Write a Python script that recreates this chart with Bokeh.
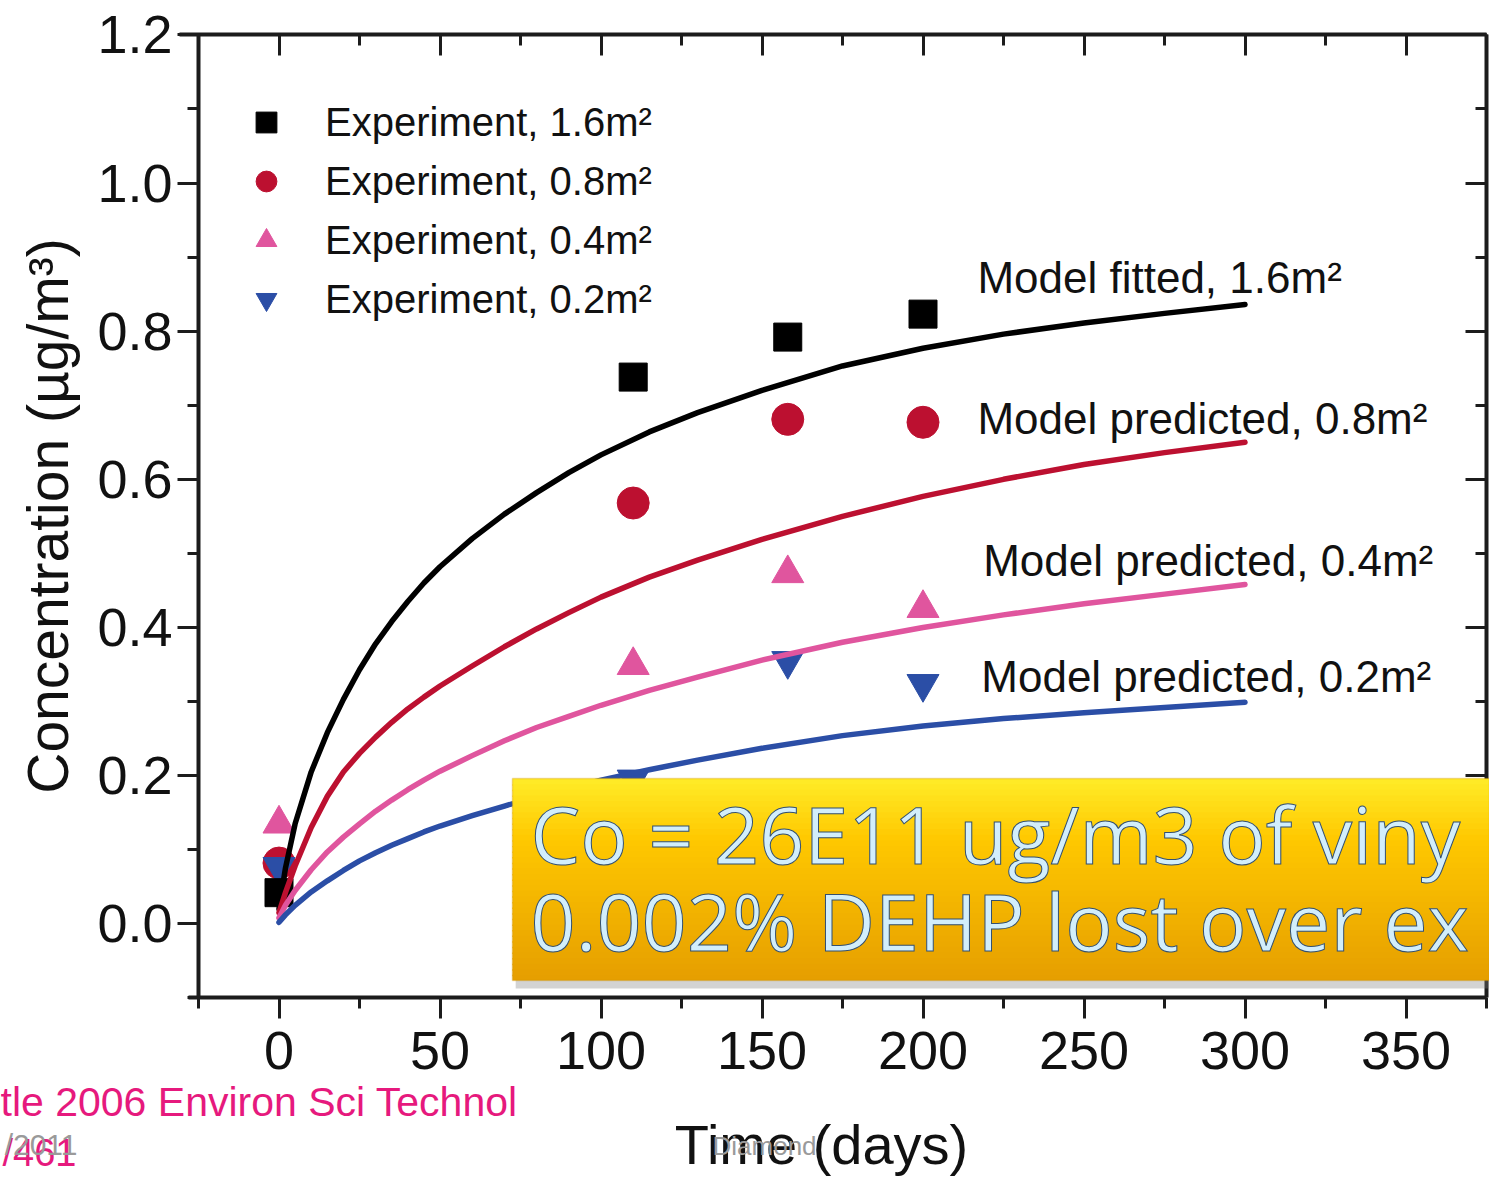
from bokeh.plotting import figure
from bokeh.models import (LinearAxis, SingleIntervalTicker, NumeralTickFormatter,
                          CustomJSTickFormatter, Range1d, Legend, LegendItem, Label,
                          BoxAnnotation)
from bokeh.core.properties import value
from bokeh.embed import file_html
from bokeh.resources import INLINE

# ---------------- data ----------------
exp_days = [0, 110, 158, 200]
exp_16 = [0.042, 0.738, 0.792, 0.823]
exp_08 = [0.082, 0.568, 0.681, 0.677]
exp_04 = [0.135, 0.349, 0.473, 0.426]
exp_02 = [0.077, 0.195, 0.355, 0.324]

model_days = [0, 2, 5, 10, 15, 20, 25, 30, 35, 40, 45, 50, 60, 70, 80, 90, 100,
              115, 130, 150, 175, 200, 225, 250, 275, 300]
model_16 = [0.02, 0.075, 0.135, 0.205, 0.258, 0.303, 0.343, 0.378, 0.408, 0.435, 0.46, 0.482,
            0.52, 0.553, 0.582, 0.609, 0.633, 0.664, 0.69, 0.72, 0.753, 0.777, 0.796, 0.811,
            0.824, 0.836]
model_08 = [0.015, 0.042, 0.078, 0.13, 0.172, 0.205, 0.23, 0.252, 0.272, 0.29, 0.306, 0.321,
            0.348, 0.374, 0.398, 0.42, 0.441, 0.468, 0.491, 0.519, 0.55, 0.577, 0.60, 0.62,
            0.636, 0.65]
model_04 = [0.008, 0.025, 0.045, 0.073, 0.097, 0.117, 0.135, 0.152, 0.167, 0.181, 0.194, 0.206,
            0.227, 0.247, 0.265, 0.28, 0.295, 0.315, 0.333, 0.356, 0.38, 0.40, 0.417, 0.432,
            0.445, 0.458]
model_02 = [0.002, 0.012, 0.025, 0.043, 0.058, 0.072, 0.085, 0.096, 0.106, 0.115, 0.124, 0.132,
            0.146, 0.159, 0.171, 0.183, 0.194, 0.208, 0.221, 0.237, 0.254, 0.267, 0.277, 0.285,
            0.292, 0.299]

legend_labels = ["Experiment, 1.6m\u00b2", "Experiment, 0.8m\u00b2",
                 "Experiment, 0.4m\u00b2", "Experiment, 0.2m\u00b2"]
model_labels = ["Model fitted, 1.6m\u00b2", "Model predicted, 0.8m\u00b2",
                "Model predicted, 0.4m\u00b2", "Model predicted, 0.2m\u00b2"]
callout_lines = ["Co = 26E11 ug/m3 of viny", "0.002% DEHP lost over ex"]

# ---------------- styles / layout ----------------
BLACK = "#000000"
RED = "#BC1030"
PINK = "#E0559E"
BLUE = "#2B4EA6"
AXC = "#1c1c1c"
FONT = "Liberation Sans"

W, H = 1489, 1179
X0_PX, XS = 278.5, 3.22       # pixel of day 0, pixels per day
Y0_PX, YS = 923.3, 740.8      # pixel of conc 0, pixels per unit

p = figure(width=W, height=H, output_backend="svg", toolbar_location=None, tools="",
           x_range=Range1d(-X0_PX / XS, (W - X0_PX) / XS),
           y_range=Range1d(-(H - Y0_PX) / YS, Y0_PX / YS),
           min_border_left=0, min_border_right=0, min_border_top=0, min_border_bottom=0,
           background_fill_color="white", border_fill_color="white")
p.outline_line_color = None
p.xgrid.visible = False
p.ygrid.visible = False


def style_axis(ax, inward):
    ax.axis_line_width = 4
    ax.axis_line_color = AXC
    ax.major_tick_line_width = 3
    ax.minor_tick_line_width = 3
    ax.major_tick_line_color = AXC
    ax.minor_tick_line_color = AXC
    if inward:
        ax.major_tick_in, ax.major_tick_out = 21, 0
        ax.minor_tick_in, ax.minor_tick_out = 11, 0
        ax.formatter = CustomJSTickFormatter(code="return ''")
        ax.major_label_standoff = 0
    else:
        ax.major_tick_in, ax.major_tick_out = 0, 21
        ax.minor_tick_in, ax.minor_tick_out = 0, 11
    ax.major_label_text_font = FONT
    ax.major_label_text_color = "#111111"


xa = p.xaxis[0]
xa.ticker = SingleIntervalTicker(interval=50, num_minor_ticks=2)
xa.fixed_location = -0.1
xa.bounds = (-28, 375)
style_axis(xa, False)
xa.major_label_text_font_size = "54px"
xa.major_label_standoff = 13

ya = p.yaxis[0]
ya.ticker = SingleIntervalTicker(interval=0.2, num_minor_ticks=2)
ya.formatter = NumeralTickFormatter(format="0.0")
ya.fixed_location = -25
ya.bounds = (-0.1, 1.2001)
style_axis(ya, False)
ya.major_label_text_font_size = "54px"
ya.major_label_standoff = 5
ya.axis_label = "Concentration (\u00b5g/m\u00b3)"
ya.axis_label_text_font = FONT
ya.axis_label_text_font_size = "57px"
ya.axis_label_text_font_style = "normal"
ya.axis_label_text_color = "#111111"
ya.axis_label_standoff = 14

top_ax = LinearAxis(ticker=SingleIntervalTicker(interval=50, num_minor_ticks=2),
                    fixed_location=1.2, bounds=(-31, 375))
style_axis(top_ax, True)
p.add_layout(top_ax, "above")
right_ax = LinearAxis(ticker=SingleIntervalTicker(interval=0.2, num_minor_ticks=2),
                      fixed_location=375, bounds=(-0.1, 1.2001))
style_axis(right_ax, True)
p.add_layout(right_ax, "right")

# ---------------- experiment markers ----------------
r08 = p.scatter(exp_days, exp_08, marker="circle", size=32, color=RED)
r04 = p.scatter(exp_days, exp_04, marker="triangle", size=32, color=PINK)
r02 = p.scatter(exp_days, exp_02, marker="inverted_triangle", size=32, color=BLUE)
r16 = p.scatter(exp_days, exp_16, marker="square", size=28, color=BLACK)

# ---------------- model curves ----------------
for ys, c in [(model_16, BLACK), (model_08, RED), (model_04, PINK), (model_02, BLUE)]:
    p.line(model_days, ys, line_color=c, line_width=5.5, line_cap="round", line_join="round")

# ---------------- legend ----------------
legend = Legend(items=[LegendItem(label=legend_labels[0], renderers=[r16]),
                       LegendItem(label=legend_labels[1], renderers=[r08]),
                       LegendItem(label=legend_labels[2], renderers=[r04]),
                       LegendItem(label=legend_labels[3], renderers=[r02])],
                location=(240, 854), orientation="vertical",
                glyph_width=52, glyph_height=52, spacing=7, padding=0, margin=0,
                border_line_color=None, background_fill_alpha=0,
                label_text_font=FONT, label_text_font_size="40px",
                label_standoff=33, label_text_color="#111111")
p.add_layout(legend)

# ---------------- model labels ----------------
lab_x = [216.9, 216.9, 218.7, 218.1]
lab_y = [0.872, 0.682, 0.490, 0.334]
p.text(x=lab_x, y=lab_y, text=model_labels, text_font=value(FONT), text_font_size="44px",
       text_color="#111111", text_align="left", text_baseline="middle")

# ---------------- callout box ----------------
box_left, box_top, box_bottom = 72.5, 0.196, -0.0765
p.add_layout(BoxAnnotation(left=box_left + 1.0, top=box_top - 0.006, bottom=box_bottom - 0.011,
                           fill_color="#808080", fill_alpha=0.35, line_color=None))
n = 36
c_top = (255, 236, 40)
c_mid = (255, 200, 0)
c_bot = (230, 158, 0)


def mix(a, b, f):
    return "#%02x%02x%02x" % tuple(int(round(a[k] + (b[k] - a[k]) * f)) for k in range(3))


span = box_top - box_bottom
for i in range(n):
    f = (i + 0.5) / n
    col = mix(c_top, c_mid, f / 0.3) if f < 0.3 else mix(c_mid, c_bot, (f - 0.3) / 0.7)
    t0 = box_top - span * i / n
    t1 = box_top - span * (i + 1) / n - 0.002
    p.add_layout(BoxAnnotation(left=box_left, top=t0, bottom=max(t1, box_bottom),
                               fill_color=col, fill_alpha=1.0, line_color=None))
p.add_layout(BoxAnnotation(left=box_left, top=box_top, bottom=box_bottom, fill_alpha=0,
                           line_color="#C98E00", line_width=1.5))

for txt, py in zip(callout_lines, [833, 920]):
    p.add_layout(Label(x=530, y=H - py, x_units="screen", y_units="screen", text=txt,
                       text_font="Open Sans", text_font_size="79px", text_color="#D2EEFB",
                       text_outline_color="#34506F", text_align="left",
                       text_baseline="middle"))


# ---------------- x title and slide footer (page pixel positions) ----------------
def slabel(text, px, py, size, color, align="left"):
    p.add_layout(Label(x=px, y=H - py, x_units="screen", y_units="screen", text=text,
                       text_font=FONT, text_font_size=f"{size}px", text_color=color,
                       text_align=align, text_baseline="middle"))


slabel("Time (days)", 821, 1144, 56, "#111111", "center")
slabel("tle 2006 Environ Sci Technol", 0, 1101, 41, "#E6197D")
slabel("/461", 76, 1152, 38, "#E6197D", "right")
slabel("/2011", 77, 1144, 30, "#9a9a9a", "right")
slabel("Diamond", 712, 1145, 26, "#9a9a9a")

open("out.html", "w").write(file_html(p, INLINE))
